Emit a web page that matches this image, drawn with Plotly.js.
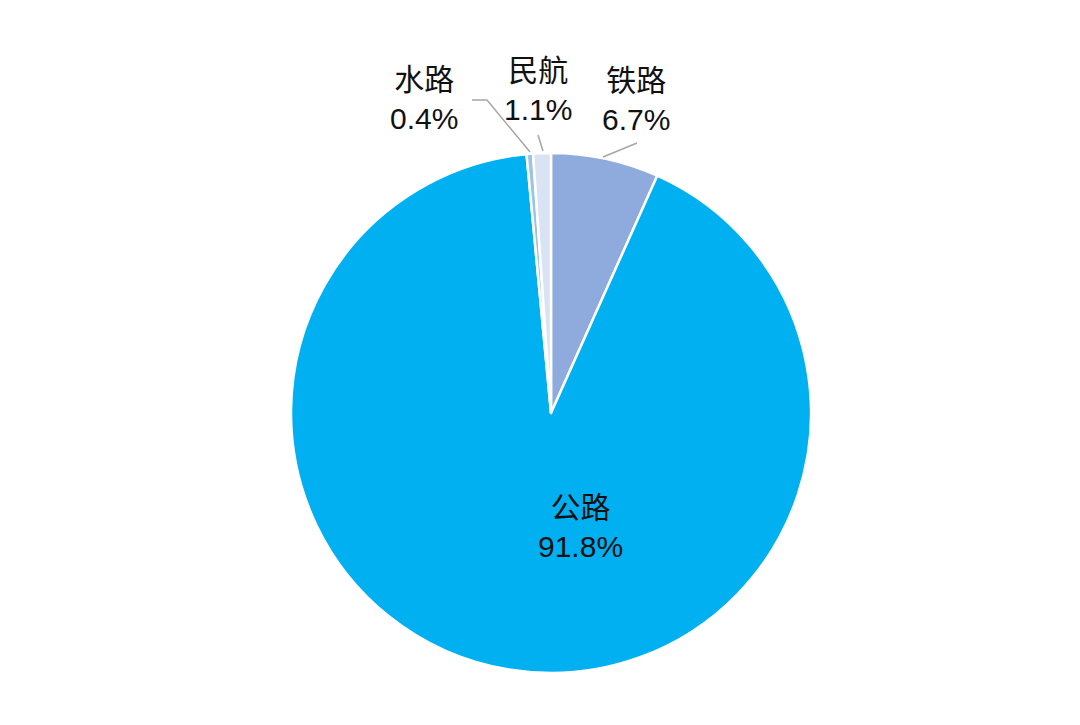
<!DOCTYPE html>
<html><head><meta charset="utf-8">
<script src="https://cdn.plot.ly/plotly-3.0.1.min.js"></script>
<style>html,body{margin:0;padding:0;background:#fff}#chart{width:1080px;height:725px}</style>
</head><body><div id="chart"></div>
<script>
const categories = ['铁路', '公路', '水路', '民航'];
const shares = [6.7, 91.8, 0.4, 1.1];
const colors = ['#8FAADC', '#00B0F0', '#9DC3E6', '#DAE3F3'];

const W = 1080, H = 725;
const px = x => x / W;
const py = y => 1 - y / H;
const FONT = 'Liberation Sans, Arial, "Noto Sans CJK SC", sans-serif';

const trace = {
  type: 'pie',
  labels: categories,
  values: shares,
  sort: false,
  direction: 'clockwise',
  rotation: 0,
  marker: {colors: colors, line: {color: '#ffffff', width: 2.5}},
  textinfo: 'none',
  hoverinfo: 'none',
  showlegend: false,
  domain: {x: [px(291), px(811)], y: [py(673), py(153)]}
};

const labelPos = [
  {i: 2, x: 424, y: 99},
  {i: 3, x: 538, y: 90},
  {i: 0, x: 636, y: 100},
  {i: 1, x: 580, y: 527}
];
const annotations = labelPos.map(o => ({
  xref: 'paper', yref: 'paper', x: px(o.x), y: py(o.y),
  text: categories[o.i] + '<br>' + shares[o.i].toFixed(1) + '%',
  showarrow: false, xanchor: 'center', yanchor: 'middle',
  font: {family: FONT, size: 30, color: '#111111'}
}));

function pathPx(points) {
  return points.map((p, k) => (k ? 'L' : 'M') + px(p[0]) + ',' + py(p[1])).join(' ');
}
const leaders = [
  [[472, 100], [487, 100], [530, 152]],
  [[538, 135], [543, 151]],
  [[637, 143], [603, 157]]
];
const shapes = leaders.map(pts => ({
  type: 'path', xref: 'paper', yref: 'paper', path: pathPx(pts),
  line: {color: '#A6A6A6', width: 1.5}
}));

Plotly.newPlot('chart', [trace], {
  width: W, height: H,
  margin: {l: 0, r: 0, t: 0, b: 0},
  paper_bgcolor: '#ffffff',
  annotations: annotations,
  shapes: shapes
}, {staticPlot: true});
</script></body></html>
